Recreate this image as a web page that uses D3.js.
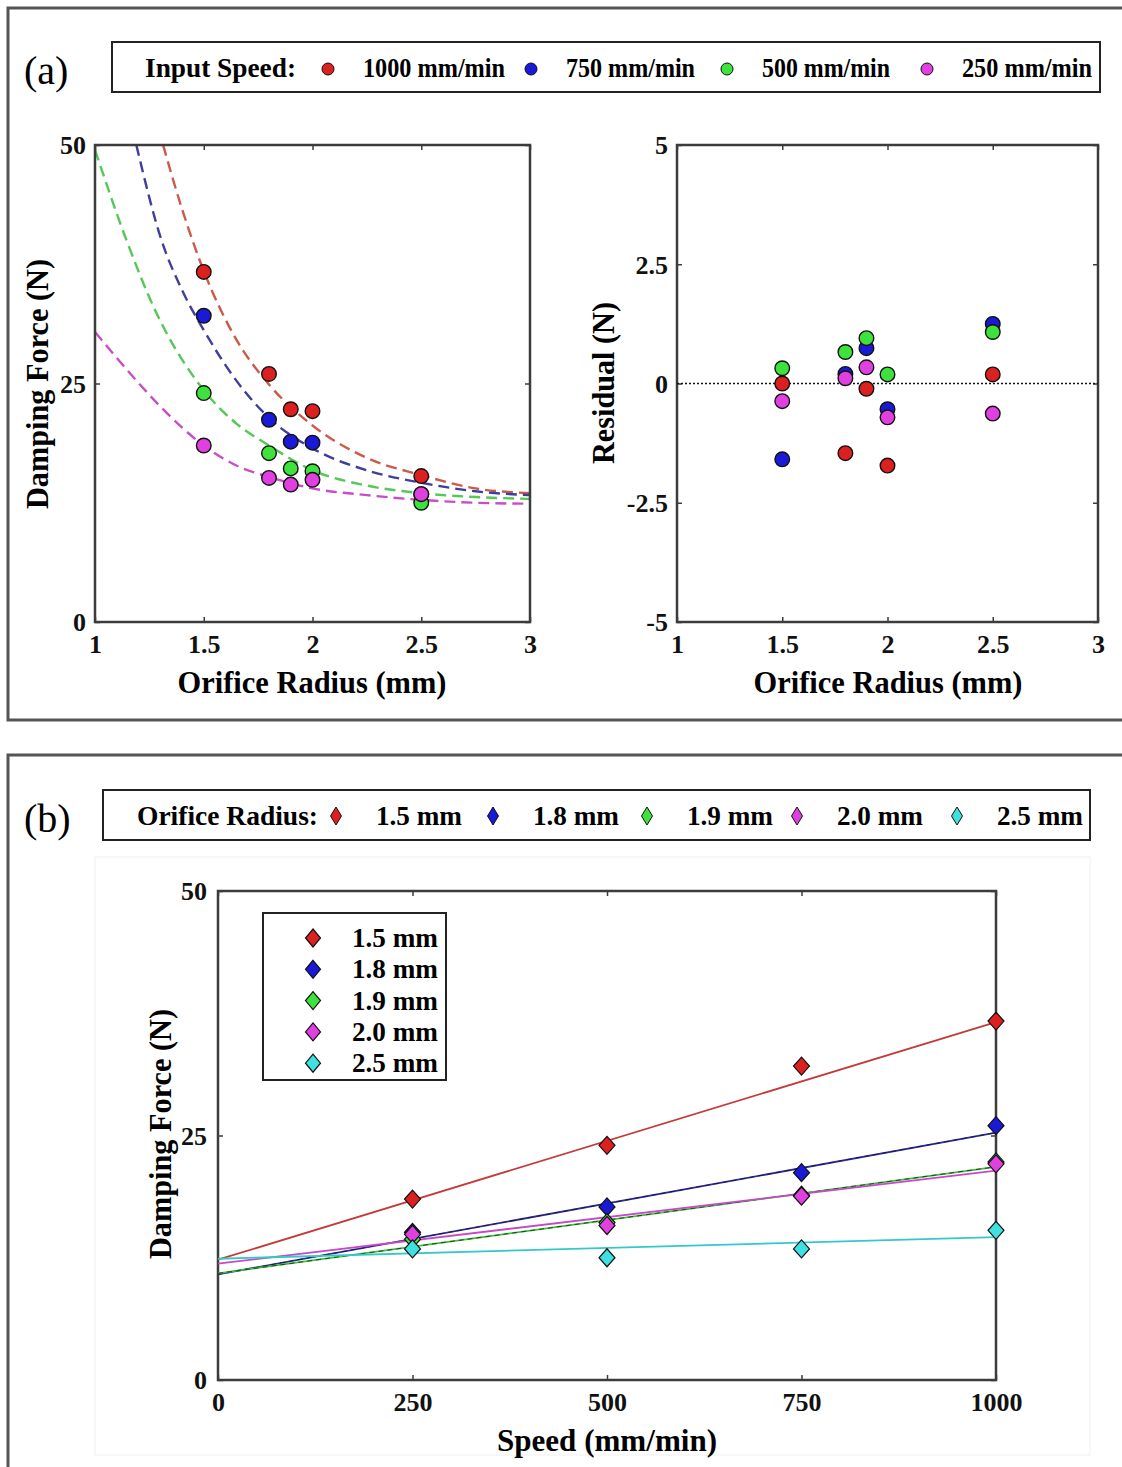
<!DOCTYPE html>
<html>
<head>
<meta charset="utf-8">
<script src="https://cdn.jsdelivr.net/npm/d3@7"></script>
<style>
  body { margin: 0; background: #fff; }
  text { font-family: "Liberation Serif", "Times New Roman", serif; }
</style>
</head>
<body>
<svg id="chart"></svg>
<script>
// ---- values ----
const speeds = [1000, 750, 500, 250];
const speedLabels = ["1000 mm/min", "750 mm/min", "500 mm/min", "250 mm/min"];
const speedColors = ["#dc1f1f", "#1a1ad6", "#3de23d", "#e040e0"];
const curveColors = ["#cc5a48", "#3e3e9e", "#55c855", "#c84ec8"];

const radii = [1.5, 1.8, 1.9, 2.0, 2.5];
const radiusLabels = ["1.5 mm", "1.8 mm", "1.9 mm", "2.0 mm", "2.5 mm"];
const radiusColors = ["#dc1f1f", "#1a1ad6", "#3de23d", "#e040e0", "#3fe0e0"];
const lineColors = ["#c43a3a", "#2b2b9a", "#3cbf3c", "#c64ac6", "#35c8c8"];

// damping force (N) per speed, in the order of radii
const force1000 = [36.7, 26.0, 22.3, 22.1, 15.3];
const force750 = [32.1, 21.2, 18.9, 18.8, 13.4];
const force500 = [24.0, 17.7, 16.1, 15.8, 12.5];
const force250 = [18.5, 15.1, 14.4, 14.9, 13.4];
const forces = [force1000, force750, force500, force250];

// residuals (N) per speed, in the order of radii
const resid1000 = [0.0, -1.46, -0.11, -1.72, 0.19];
const resid750 = [-1.59, 0.20, 0.74, -0.54, 1.25];
const resid500 = [0.32, 0.66, 0.95, 0.19, 1.08];
const resid250 = [-0.37, 0.11, 0.34, -0.71, -0.63];
const residuals = [resid1000, resid750, resid500, resid250];

// dashed fit curves of panel (a), points [radius, force]
const fit1000 = [[1.313, 50], [1.4, 43.3], [1.5, 36.8], [1.65, 29.6], [1.8, 24.9], [2.0, 20.6], [2.25, 17.2], [2.5, 15.4], [2.75, 14.0], [3.0, 13.5]];
const fit750 = [[1.19, 50], [1.306, 40.0], [1.4, 34.8], [1.5, 30.6], [1.65, 25.3], [1.8, 21.4], [2.0, 18.2], [2.25, 15.9], [2.5, 14.6], [2.75, 13.7], [3.0, 13.3]];
const fit500 = [[1.0, 49.5], [1.145, 40.0], [1.27, 33.0], [1.5, 24.3], [1.65, 20.8], [1.8, 18.5], [2.0, 15.9], [2.25, 14.3], [2.5, 13.5], [2.75, 13.1], [3.0, 12.9]];
const fit250 = [[1.0, 30.4], [1.16, 26.1], [1.3, 22.6], [1.5, 18.5], [1.65, 16.4], [1.8, 15.2], [2.0, 14.0], [2.25, 13.3], [2.5, 12.8], [2.75, 12.5], [3.0, 12.4]];
const fits = [fit1000, fit750, fit500, fit250];

// linear fits of panel (b): force at 0 and at 1000 mm/min
const lineSpeeds = [0, 1000];
const line15 = [12.3, 36.6];
const line18 = [10.8, 25.3];
const line19 = [10.9, 21.8];
const line20 = [11.9, 21.4];
const line25 = [12.4, 14.6];
const lineFits = [line15, line18, line19, line20, line25];

const radiusTicks = [1, 1.5, 2, 2.5, 3];
const forceTicks = [0, 25, 50];
const residualTicks = [-5, -2.5, 0, 2.5, 5];
const speedTicks = [0, 250, 500, 750, 1000];

// ---- svg ----
const W = 1122, H = 1467;
const svg = d3.select("#chart").attr("width", W).attr("height", H);
const frameCol = "#3c3c3c";

// panel frames
svg.append("rect").attr("x", 8).attr("y", 8).attr("width", 1130).attr("height", 712)
  .attr("fill", "none").attr("stroke", "#555").attr("stroke-width", 3);
svg.append("rect").attr("x", 8).attr("y", 755).attr("width", 1130).attr("height", 720)
  .attr("fill", "none").attr("stroke", "#555").attr("stroke-width", 3);
// faint plot area of (b)
svg.append("rect").attr("x", 95).attr("y", 857).attr("width", 995).attr("height", 598)
  .attr("fill", "none").attr("stroke", "#f0f0f0").attr("stroke-width", 1);

svg.append("text").attr("x", 24).attr("y", 84).attr("font-size", 40).text("(a)");
svg.append("text").attr("x", 24).attr("y", 832).attr("font-size", 40).text("(b)");

function label(g, x, y, str, size, len, anchor) {
  const t = g.append("text").attr("x", x).attr("y", y)
    .attr("font-size", size).attr("font-weight", "bold")
    .attr("text-anchor", anchor || "start").text(str);
  if (len) t.attr("textLength", len).attr("lengthAdjust", "spacingAndGlyphs");
  return t;
}

function diamond(w, h) {
  return `M0,${-h}L${w},0L0,${h}L${-w},0Z`;
}

// ---- legend (a) ----
const legA = svg.append("g");
legA.append("rect").attr("x", 112).attr("y", 42).attr("width", 988).attr("height", 50)
  .attr("fill", "#fff").attr("stroke", "#222").attr("stroke-width", 2);
label(legA, 145, 77, "Input Speed:", 27, 151);
const legAx = [328, 531, 727, 927];
const legALen = [142, 129, 128, 130];
speeds.forEach((s, i) => {
  legA.append("circle").attr("cx", legAx[i]).attr("cy", 69).attr("r", 6)
    .attr("fill", speedColors[i]).attr("stroke", "#111").attr("stroke-width", 1);
  label(legA, legAx[i] + 35, 77, speedLabels[i], 27, legALen[i]);
});

// ---- legend (b) ----
const legB = svg.append("g");
legB.append("rect").attr("x", 103).attr("y", 790).attr("width", 987).attr("height", 50)
  .attr("fill", "#fff").attr("stroke", "#222").attr("stroke-width", 2);
label(legB, 137, 825, "Orifice Radius:", 27, 181);
const legBx = [336, 493, 647, 797, 957];
radii.forEach((r, i) => {
  legB.append("path").attr("d", diamond(5.5, 9))
    .attr("transform", `translate(${legBx[i]},816)`)
    .attr("fill", radiusColors[i]).attr("stroke", "#111").attr("stroke-width", 1);
  label(legB, legBx[i] + 40, 825, radiusLabels[i], 27, 86);
});

// ---- axes helper ----
function drawAxes(g, x, y, xTicks, yTicks, fmt, padX, padY) {
  const [x0, x1] = x.range();
  const [y0, y1] = y.range();
  const styleAxis = a => {
    a.select(".domain").remove();
    a.selectAll(".tick line").attr("stroke", frameCol).attr("stroke-width", 1.5);
    a.selectAll("text").attr("font-size", 26).attr("font-weight", "bold")
      .attr("fill", "#111").attr("font-family", "Liberation Serif, serif");
  };
  g.append("g").attr("transform", `translate(0,${y0})`)
    .call(d3.axisBottom(x).tickValues(xTicks).tickFormat(fmt).tickSizeInner(-5).tickSizeOuter(0).tickPadding(padX))
    .call(styleAxis);
  g.append("g").attr("transform", `translate(0,${y1})`)
    .call(d3.axisTop(x).tickValues(xTicks).tickFormat("").tickSizeInner(-5).tickSizeOuter(0))
    .call(styleAxis);
  g.append("g").attr("transform", `translate(${x0},0)`)
    .call(d3.axisLeft(y).tickValues(yTicks).tickFormat(fmt).tickSizeInner(-5).tickSizeOuter(0).tickPadding(padY))
    .call(styleAxis);
  g.append("g").attr("transform", `translate(${x1},0)`)
    .call(d3.axisRight(y).tickValues(yTicks).tickFormat("").tickSizeInner(-5).tickSizeOuter(0))
    .call(styleAxis);
  g.append("rect").attr("x", x0).attr("y", y1).attr("width", x1 - x0).attr("height", y0 - y1)
    .attr("fill", "none").attr("stroke", frameCol).attr("stroke-width", 2.5);
}

// plain hyphen for negatives, like the original figure
const fmtNum = d => String(d);

// ---- (a) left: damping force vs orifice radius ----
const xR = d3.scaleLinear().domain([1, 3]).range([95, 530]);
const yF = d3.scaleLinear().domain([0, 50]).range([622, 145]);
const gL = svg.append("g");
svg.append("clipPath").attr("id", "clipL").append("rect")
  .attr("x", 95).attr("y", 145).attr("width", 435).attr("height", 477);

const curve = d3.line().x(d => xR(d[0])).y(d => yF(d[1])).curve(d3.curveMonotoneX);
gL.append("g").attr("clip-path", "url(#clipL)")
  .selectAll("path").data(fits).join("path")
  .attr("d", curve).attr("fill", "none")
  .attr("stroke", (d, i) => curveColors[i]).attr("stroke-width", 2.4)
  .attr("stroke-dasharray", "11,6");

drawAxes(gL, xR, yF, radiusTicks, forceTicks, fmtNum, 12, 9);

speeds.forEach((s, i) => {
  gL.append("g").selectAll("circle").data(forces[i]).join("circle")
    .attr("cx", (d, j) => xR(radii[j])).attr("cy", d => yF(d)).attr("r", 7.3)
    .attr("fill", speedColors[i]).attr("stroke", "#111").attr("stroke-width", 1.4);
});

label(gL, 312, 693, "Orifice Radius (mm)", 31, 269, "middle");
label(gL, 0, 0, "Damping Force (N)", 31, 250, "middle")
  .attr("transform", "translate(48,384) rotate(-90)");

// ---- (a) right: residuals ----
const xR2 = d3.scaleLinear().domain([1, 3]).range([677, 1098]);
const yRes = d3.scaleLinear().domain([-5, 5]).range([622, 145]);
const gR = svg.append("g");
drawAxes(gR, xR2, yRes, radiusTicks, residualTicks, fmtNum, 12, 9);
gR.append("line").attr("x1", xR2(1)).attr("x2", xR2(3)).attr("y1", yRes(0)).attr("y2", yRes(0))
  .attr("stroke", "#111").attr("stroke-width", 1.6).attr("stroke-dasharray", "2,2");
speeds.forEach((s, i) => {
  gR.append("g").selectAll("circle").data(residuals[i]).join("circle")
    .attr("cx", (d, j) => xR2(radii[j])).attr("cy", d => yRes(d)).attr("r", 7.3)
    .attr("fill", speedColors[i]).attr("stroke", "#111").attr("stroke-width", 1.4);
});
label(gR, 888, 693, "Orifice Radius (mm)", 31, 269, "middle");
label(gR, 0, 0, "Residual (N)", 31, 162, "middle")
  .attr("transform", "translate(614,383) rotate(-90)");

// ---- (b): damping force vs speed ----
const xS = d3.scaleLinear().domain([0, 1000]).range([218, 996]);
const yF2 = d3.scaleLinear().domain([0, 50]).range([1380, 891]);
const gB = svg.append("g");
drawAxes(gB, xS, yF2, speedTicks, forceTicks, fmtNum, 12, 11);

const straight = d3.line().x(d => xS(d[0])).y(d => yF2(d[1]));
lineFits.forEach((lf, i) => {
  const pts = lineSpeeds.map((s, k) => [s, lf[k]]);
  gB.append("path").attr("d", straight(pts)).attr("fill", "none")
    .attr("stroke", lineColors[i]).attr("stroke-width", 1.8);
  if (i === 1 || i === 2) {
    gB.append("path").attr("d", straight(pts)).attr("fill", "none")
      .attr("stroke", "#111").attr("stroke-width", 1).attr("stroke-dasharray", "5,4")
      .attr("opacity", 0.7);
  }
});

radii.forEach((r, j) => {
  const vals = speeds.map((s, i) => [s, forces[i][j]]);
  gB.append("g").selectAll("path").data(vals).join("path")
    .attr("d", diamond(8, 9))
    .attr("transform", d => `translate(${xS(d[0])},${yF2(d[1])})`)
    .attr("fill", radiusColors[j]).attr("stroke", "#111").attr("stroke-width", 1.2);
});

// inner legend
const legI = gB.append("g");
legI.append("rect").attr("x", 263).attr("y", 913).attr("width", 183).attr("height", 167)
  .attr("fill", "#fff").attr("stroke", "#222").attr("stroke-width", 2);
radii.forEach((r, j) => {
  const cy = 938 + j * 31.3;
  legI.append("path").attr("d", diamond(7.5, 9))
    .attr("transform", `translate(313,${cy})`)
    .attr("fill", radiusColors[j]).attr("stroke", "#111").attr("stroke-width", 1.2);
  label(legI, 352, cy + 9, radiusLabels[j], 28, 86);
});

label(gB, 607, 1451, "Speed (mm/min)", 31, 220, "middle");
label(gB, 0, 0, "Damping Force (N)", 31, 250, "middle")
  .attr("transform", "translate(171,1134) rotate(-90)");

// vertical centring of tick labels
svg.selectAll("g.tick text").each(function () {
  const t = d3.select(this);
  if (+t.attr("x") < 0) t.attr("dy", "0.34em");
  else t.attr("dy", "0.72em");
});
</script>
</body>
</html>
